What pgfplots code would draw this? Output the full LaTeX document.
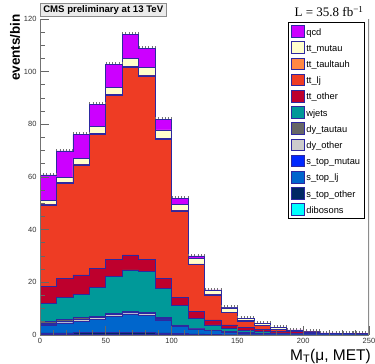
\documentclass[border=0pt]{standalone}
\usepackage{fontspec}
\setmainfont{Liberation Sans}
\newfontfamily\timesfont{Liberation Serif}
\usepackage{pgfplots}
\usepackage{pgfplotstable}
\pgfplotsset{compat=1.18}
\definecolor{cqcd}{RGB}{204,0,255}
\definecolor{cttmu}{RGB}{255,255,204}
\definecolor{ctth}{RGB}{255,136,68}
\definecolor{cttlj}{RGB}{238,60,36}
\definecolor{ctto}{RGB}{190,0,45}
\definecolor{cwj}{RGB}{0,153,153}
\definecolor{cdyt}{RGB}{102,102,102}
\definecolor{cdyo}{RGB}{204,204,204}
\definecolor{cstmu}{RGB}{0,40,255}
\definecolor{cstlj}{RGB}{0,102,204}
\definecolor{csto}{RGB}{0,40,100}
\definecolor{cdib}{RGB}{0,255,255}
\definecolor{cline}{RGB}{45,40,160}
% cumulative stack heights (bottom to top), bin left edges
\pgfplotstableread{
x     dib  sto  stlj stmu dyo  dyt  wj   tto  ttlj  tth   ttmu  qcd
0     0.1  0.8  3.8  4.0  4.4  5.3  12.0 18.3 49.4  49.6  51.2  60.8
12.5  0.1  0.8  4.4  4.6  5.0  6.0  14.2 21.5 57.6  57.8  59.7  69.9
25    0.2  0.9  5.0  5.2  5.8  6.6  15.5 22.8 64.6  64.8  67.0  76.1
37.5  0.3  1.0  5.8  6.0  6.7  7.2  18.1 25.3 76.2  76.4  79.1  87.7
50    0.3  1.0  7.0  7.2  7.9  8.3  22.1 28.7 91.0  91.2  93.9  102.9
62.5  0.3  1.0  7.8  8.0  8.7  9.1  24.7 30.4 101.7 101.9 105.1 114.3
75    0.3  0.9  7.3  7.5  8.1  8.5  24.2 28.7 98.4  98.6  101.7 108.9
87.5  0.2  0.8  5.7  5.9  6.3  6.6  17.7 21.5 74.4  74.6  77.9  82.0
100   0.1  0.5  3.4  3.5  3.7  3.8  11.1 14.3 47.1  47.3  49.6  51.8
112.5 0.1  0.4  2.0  2.1  2.3  2.4  6.2  9.0  26.8  27.0  29.1  30.0
125   0.1  0.3  1.6  1.7  1.8  1.9  3.8  5.7  15.2  15.3  16.8  17.1
137.5 0.05 0.2  1.0  1.1  1.2  1.3  2.5  3.8  8.6   8.7   10.3  10.5
150   0.05 0.2  0.7  0.8  0.9  1.0  1.6  3.0  5.3   5.4   6.2   6.3
162.5 0.05 0.15 0.5  0.6  0.7  0.8  1.2  2.1  3.5   3.6   4.3   4.4
175   0.05 0.15 0.4  0.45 0.5  0.55 0.8  1.4  2.2   2.25  2.75  2.8
187.5 0.03 0.1  0.25 0.3  0.35 0.4  0.6  1.2  1.6   1.65  1.85  1.9
200   0.02 0.07 0.17 0.22 0.25 0.3  0.45 0.85 1.15  1.17  1.27  1.3
212.5 0.02 0.07 0.17 0.22 0.24 0.27 0.37 0.57 0.72  0.74  0.78  0.8
225   0.02 0.06 0.14 0.18 0.2  0.22 0.3  0.45 0.55  0.56  0.59  0.6
237.5 0.02 0.05 0.12 0.16 0.18 0.2  0.26 0.38 0.46  0.47  0.49  0.5
250   0.02 0.05 0.12 0.16 0.18 0.2  0.26 0.38 0.46  0.47  0.49  0.5
}\data
\begin{document}
\begin{tikzpicture}
\useasboundingbox (-40pt,-29pt) rectangle (335pt,335pt);
\begin{axis}[
  width=329pt, height=316pt, scale only axis,
  xmin=0, xmax=250, ymin=0, ymax=120,
  axis x line*=bottom, axis y line*=left,
  axis line style={-, draw=black!55, line width=0.9pt},
  axis on top,
  xtick={0,50,...,250}, ytick={0,20,...,120},
  minor x tick num=4, minor y tick num=3,
  tick align=inside,
  major tick length=9pt, minor tick length=5pt,
  tick style={draw=black!60, line width=0.8pt},
  xtick pos=bottom, ytick pos=left,
  ticklabel style={font=\fontsize{7.5}{8}\selectfont, text=black!80},
  /pgf/number format/assume math mode=true,
  xlabel={M\textsubscript{T}(μ, MET)},
  xlabel style={font=\fontsize{15.5}{17}\selectfont, at={(rel axis cs:1,0)}, anchor=north east, yshift=-14pt, xshift=2pt, inner sep=0pt},
  ylabel={\bfseries events/bin},
  ylabel style={font=\fontsize{13.5}{15}\selectfont, at={([xshift=-25pt,yshift=5pt]rel axis cs:0,1)}, anchor=east, inner sep=0pt},
  title={\bfseries CMS preliminary at 13 TeV},
  title style={font=\fontsize{9.6}{11}\selectfont, at={(rel axis cs:0,1)}, anchor=south west, yshift=-4pt, fill=black!8, draw=black!45, inner xsep=3pt, inner ysep=2pt, line width=0.6pt},
  legend cell align=left,
  legend style={at={(0.988,0.9905)}, anchor=north east, draw=black, line width=0.8pt,
    font=\fontsize{9.3}{10}\selectfont, inner xsep=2.5pt, inner ysep=1pt, row sep=0pt,
    nodes={inner xsep=2pt, inner ysep=1.6pt, text height=10pt, text depth=3pt}},
  legend image code/.code={\draw[#1, draw=cline, line width=0.6pt] (0pt,-5.5pt) rectangle (12.5pt,6pt);},
  every axis plot/.append style={const plot, draw=cline, line width=0.7pt},
]
\addplot[fill=cqcd] table[x=x,y=qcd]{\data} \closedcycle;
\addlegendentry{qcd}
\addplot[fill=cttmu] table[x=x,y=ttmu]{\data} \closedcycle;
\addlegendentry{tt\_mutau}
\addplot[fill=ctth] table[x=x,y=tth]{\data} \closedcycle;
\addlegendentry{tt\_taultauh}
\addplot[fill=cttlj] table[x=x,y=ttlj]{\data} \closedcycle;
\addlegendentry{tt\_lj}
\addplot[fill=ctto] table[x=x,y=tto]{\data} \closedcycle;
\addlegendentry{tt\_other}
\addplot[fill=cwj] table[x=x,y=wj]{\data} \closedcycle;
\addlegendentry{wjets}
\addplot[fill=cdyt] table[x=x,y=dyt]{\data} \closedcycle;
\addlegendentry{dy\_tautau}
\addplot[fill=cdyo] table[x=x,y=dyo]{\data} \closedcycle;
\addlegendentry{dy\_other}
\addplot[fill=cstmu] table[x=x,y=stmu]{\data} \closedcycle;
\addlegendentry{s\_top\_mutau}
\addplot[fill=cstlj] table[x=x,y=stlj]{\data} \closedcycle;
\addlegendentry{s\_top\_lj}
\addplot[fill=csto] table[x=x,y=sto]{\data} \closedcycle;
\addlegendentry{s\_top\_other}
\addplot[fill=cdib] table[x=x,y=dib]{\data} \closedcycle;
\addlegendentry{dibosons}
% small MC-error hatch marks on top of the stack
\addplot[jump mark left, draw=black!55, line width=2pt, dash pattern=on 0.6pt off 2.6pt, yshift=1.2pt, forget plot] table[x=x,y=qcd]{\data};
\draw[black!45, line width=1.4pt] (rel axis cs:1,0) -- (rel axis cs:1,1);
\end{axis}
\node[font=\timesfont\fontsize{13}{14}\selectfont, anchor=base east] at (327pt,318pt) {L = 35.8 fb\textsuperscript{−1}};
\end{tikzpicture}
\end{document}
